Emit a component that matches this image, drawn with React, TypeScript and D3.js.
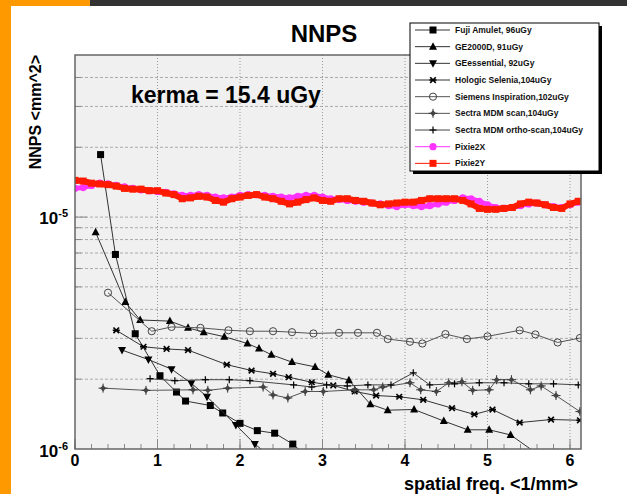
import React from "react";
import * as d3 from "d3";

// spatial frequency (1/mm) and NNPS (mm^2) per detector
const fujiX = [0.31, 0.49, 0.73, 1.03, 1.23, 1.34, 1.64, 1.79, 2.0, 2.21, 2.42, 2.64, 2.85];
const fujiY = [1.86e-5, 6.9e-6, 3.14e-6, 2.07e-6, 1.76e-6, 1.61e-6, 1.54e-6, 1.43e-6, 1.29e-6, 1.2e-6, 1.17e-6, 1.05e-6, 0.9e-6];

const ge2000X = [0.25, 0.61, 0.79, 1.15, 1.37, 1.56, 1.81, 2.09, 2.23, 2.38, 2.63, 2.91, 3.07, 3.32, 3.58, 3.79, 4.11, 4.47, 4.76, 5.02, 5.28, 5.8];
const ge2000Y = [8.6e-6, 4.3e-6, 3.6e-6, 3.56e-6, 3.33e-6, 3.19e-6, 3.05e-6, 2.85e-6, 2.71e-6, 2.55e-6, 2.37e-6, 2.26e-6, 2.09e-6, 1.98e-6, 1.56e-6, 1.47e-6, 1.48e-6, 1.32e-6, 1.21e-6, 1.21e-6, 1.15e-6, 0.85e-6];

const geEssX = [0.57, 0.89, 1.17, 1.41, 1.6, 1.95, 2.18, 2.45];
const geEssY = [2.67e-6, 2.43e-6, 2.21e-6, 1.92e-6, 1.68e-6, 1.27e-6, 1.05e-6, 0.88e-6];

const hologicX = [0.5, 0.83, 1.11, 1.37, 1.84, 2.14, 2.4, 2.59, 2.87, 3.13, 3.39, 3.65, 3.93, 4.22, 4.57, 4.84, 5.06, 5.39, 5.77, 6.12];
const hologicY = [3.25e-6, 2.76e-6, 2.7e-6, 2.67e-6, 2.31e-6, 2.18e-6, 2.11e-6, 2.04e-6, 1.94e-6, 1.88e-6, 1.77e-6, 1.7e-6, 1.68e-6, 1.63e-6, 1.5e-6, 1.41e-6, 1.48e-6, 1.3e-6, 1.34e-6, 1.33e-6];

const siemensX = [0.4, 0.93, 1.17, 1.52, 1.86, 2.12, 2.4, 2.63, 2.89, 3.2, 3.43, 3.66, 3.79, 4.06, 4.21, 4.49, 4.75, 5.0, 5.39, 5.58, 5.85, 6.12];
const siemensY = [4.72e-6, 3.22e-6, 3.36e-6, 3.33e-6, 3.25e-6, 3.22e-6, 3.22e-6, 3.19e-6, 3.15e-6, 3.17e-6, 3.17e-6, 3.17e-6, 2.98e-6, 2.9e-6, 2.85e-6, 3.13e-6, 2.98e-6, 3.06e-6, 3.25e-6, 3.12e-6, 2.88e-6, 3.01e-6];

const sectraX = [0.34, 0.86, 1.43, 1.61, 1.85, 2.28, 2.4, 2.58, 2.79, 3.01, 3.39, 3.62, 3.73, 4.06, 4.19, 4.38, 4.53, 4.69, 4.82, 5.02, 5.11, 5.29, 5.52, 5.65, 5.83, 6.12];
const sectraY = [1.83e-6, 1.79e-6, 1.8e-6, 1.79e-6, 1.83e-6, 1.85e-6, 1.71e-6, 1.66e-6, 1.77e-6, 1.77e-6, 1.8e-6, 1.8e-6, 1.85e-6, 1.93e-6, 1.8e-6, 1.77e-6, 1.93e-6, 1.95e-6, 1.79e-6, 1.8e-6, 1.99e-6, 1.99e-6, 1.8e-6, 1.87e-6, 1.7e-6, 1.45e-6];

const orthoX = [0.91, 1.21, 1.58, 1.87, 2.12, 2.65, 2.87, 3.05, 3.3, 3.55, 3.83, 4.1, 4.3, 4.6, 4.9, 5.2, 5.5, 5.8, 6.1];
const orthoY = [2.01e-6, 1.97e-6, 1.99e-6, 1.99e-6, 1.97e-6, 1.89e-6, 1.85e-6, 1.89e-6, 1.87e-6, 1.89e-6, 1.89e-6, 2.13e-6, 1.89e-6, 1.91e-6, 1.93e-6, 1.93e-6, 1.91e-6, 1.91e-6, 1.89e-6];

const pixieX = [0, 0.1, 0.2, 0.3, 0.4, 0.5, 0.6, 0.7, 0.8, 0.9, 1.0, 1.1, 1.2, 1.3, 1.4, 1.5, 1.6, 1.7, 1.8, 1.9, 2.0, 2.1, 2.2, 2.3, 2.4, 2.5, 2.6, 2.7, 2.8, 2.9, 3.0, 3.1, 3.2, 3.3, 3.4, 3.5, 3.6, 3.7, 3.8, 3.9, 4.0, 4.1, 4.2, 4.3, 4.4, 4.5, 4.6, 4.7, 4.8, 4.9, 5.0, 5.1, 5.2, 5.3, 5.4, 5.5, 5.6, 5.7, 5.8, 5.9, 6.0, 6.1];
// in units of 1e-5
const pixie2X = [1.33, 1.34, 1.37, 1.4, 1.39, 1.37, 1.35, 1.33, 1.31, 1.3, 1.29, 1.28, 1.26, 1.24, 1.24, 1.25, 1.24, 1.22, 1.21, 1.22, 1.24, 1.25, 1.25, 1.24, 1.23, 1.22, 1.21, 1.23, 1.24, 1.24, 1.22, 1.2, 1.19, 1.18, 1.17, 1.16, 1.15, 1.14, 1.12, 1.11, 1.13, 1.12, 1.11, 1.12, 1.14, 1.16, 1.18, 1.21, 1.2, 1.17, 1.13, 1.1, 1.09, 1.1, 1.12, 1.14, 1.15, 1.13, 1.11, 1.1, 1.13, 1.16];
const pixie2Y = [1.44, 1.43, 1.4, 1.39, 1.38, 1.36, 1.33, 1.32, 1.32, 1.3, 1.3, 1.27, 1.25, 1.2, 1.21, 1.23, 1.22, 1.18, 1.16, 1.2, 1.22, 1.24, 1.25, 1.22, 1.2, 1.17, 1.14, 1.16, 1.19, 1.21, 1.18, 1.17, 1.2, 1.2, 1.18, 1.17, 1.15, 1.13, 1.14, 1.15, 1.16, 1.16, 1.18, 1.2, 1.2, 1.2, 1.2, 1.18, 1.14, 1.09, 1.08, 1.08, 1.09, 1.1, 1.14, 1.16, 1.15, 1.13, 1.1, 1.09, 1.14, 1.17];

const legendLabels = [
  "Fuji Amulet, 96uGy",
  "GE2000D, 91uGy",
  "GEessential, 92uGy",
  "Hologic Selenia,104uGy",
  "Siemens Inspiration,102uGy",
  "Sectra MDM scan,104uGy",
  "Sectra MDM ortho-scan,104uGy",
  "Pixie2X",
  "Pixie2Y",
];
const xTickLabels = ["0", "1", "2", "3", "4", "5", "6"];

const FONT = "'Liberation Sans', Arial, Helvetica, sans-serif";
const W = 627;
const H = 494;
const left = 75, right = 581, top = 55, bottom = 449;

type Kind = "square" | "triUp" | "triDown" | "star" | "circleOpen" | "diamondCross" | "plus" | "dotMag" | "squareRed";

function Marker({ kind, x, y }: { kind: Kind; x: number; y: number }) {
  switch (kind) {
    case "square":
      return <rect x={x - 3.5} y={y - 3.5} width={7} height={7} fill="#000" />;
    case "squareRed":
      return <rect x={x - 3.5} y={y - 3.5} width={7} height={7} fill="#ff1a00" />;
    case "triUp":
      return <path d={`M${x},${y - 4.5}L${x + 4},${y + 3}L${x - 4},${y + 3}Z`} fill="#000" />;
    case "triDown":
      return <path d={`M${x},${y + 4.5}L${x + 4},${y - 3}L${x - 4},${y - 3}Z`} fill="#000" />;
    case "star":
      return (
        <g stroke="#000" strokeWidth={1.6}>
          <line x1={x - 3.5} x2={x + 3.5} y1={y} y2={y} />
          <line x1={x - 2.8} x2={x + 2.8} y1={y - 2.8} y2={y + 2.8} />
          <line x1={x - 2.8} x2={x + 2.8} y1={y + 2.8} y2={y - 2.8} />
        </g>
      );
    case "circleOpen":
      return <circle cx={x} cy={y} r={3.6} fill="none" stroke="#444" strokeWidth={1} />;
    case "diamondCross":
      return (
        <g>
          <line x1={x - 4.5} x2={x + 4.5} y1={y} y2={y} stroke="#333" strokeWidth={1} />
          <line x1={x} x2={x} y1={y - 4.5} y2={y + 4.5} stroke="#333" strokeWidth={1} />
          <path d={`M${x},${y - 3}L${x + 3},${y}L${x},${y + 3}L${x - 3},${y}Z`} fill="#444" />
        </g>
      );
    case "plus":
      return (
        <g stroke="#000" strokeWidth={1.2}>
          <line x1={x - 3.5} x2={x + 3.5} y1={y} y2={y} />
          <line x1={x} x2={x} y1={y - 3.5} y2={y + 3.5} />
        </g>
      );
    case "dotMag":
      return <circle cx={x} cy={y} r={3.6} fill="#ff33ff" />;
  }
  return null;
}

export default function App() {
  const x = d3.scaleLinear().domain([0, 6.133]).range([left, right]);
  const y = d3.scaleLog().domain([1e-6, 5e-5]).range([bottom, top]);

  const series: { xs: number[]; ys: number[]; kind: Kind; color: string; width: number; lw: number }[] = [
    { xs: fujiX, ys: fujiY, kind: "square", color: "#333", width: 1, lw: 1 },
    { xs: ge2000X, ys: ge2000Y, kind: "triUp", color: "#333", width: 1, lw: 1 },
    { xs: geEssX, ys: geEssY, kind: "triDown", color: "#333", width: 1, lw: 1 },
    { xs: hologicX, ys: hologicY, kind: "star", color: "#333", width: 1, lw: 1 },
    { xs: siemensX, ys: siemensY, kind: "circleOpen", color: "#555", width: 1, lw: 1 },
    { xs: sectraX, ys: sectraY, kind: "diamondCross", color: "#555", width: 1, lw: 1 },
    { xs: orthoX, ys: orthoY, kind: "plus", color: "#444", width: 1, lw: 1 },
    { xs: pixieX, ys: pixie2X.map((v) => v * 1e-5), kind: "dotMag", color: "#ff33ff", width: 5, lw: 1 },
    { xs: pixieX, ys: pixie2Y.map((v) => v * 1e-5), kind: "squareRed", color: "#ff1a00", width: 6, lw: 1 },
  ];

  const line = d3
    .line<[number, number]>()
    .x((d) => x(d[0]))
    .y((d) => y(d[1]));

  const yGrid = y.ticks().filter((t) => t > 1e-6 && t < 5e-5);
  const xMinor = d3.range(0, 6.1, 0.2);
  const xMajor = d3.range(0, 7, 1);

  const legendTop = 30;
  const legendStep = 16.67;

  return (
    <svg
      width={W}
      height={H}
      style={{ position: "fixed", left: 0, top: 0, background: "#fff" }}
      fontFamily={FONT}
    >
      {/* page frame */}
      <rect x={0} y={0} width={W} height={H} fill="#fff" />
      <rect x={0} y={0} width={11} height={H} fill="#ff9900" />
      <rect x={0} y={0} width={90} height={6} fill="#ff9900" />
      <rect x={90} y={0} width={W - 90} height={6} fill="#333" />

      <text x={324} y={42} textAnchor="middle" fontSize={24} fontWeight="bold">
        NNPS
      </text>

      {/* plot frame */}
      <rect x={left} y={top} width={right - left} height={bottom - top} fill="#f0f0f0" />

      {yGrid.map((t) => (
        <line
          key={"gy" + t}
          x1={left}
          x2={right}
          y1={y(t)}
          y2={y(t)}
          stroke="#aaa"
          strokeWidth={1}
          strokeDasharray="3,2"
        />
      ))}
      {xMajor.slice(1).map((t) => (
        <line
          key={"gx" + t}
          x1={x(t)}
          x2={x(t)}
          y1={top}
          y2={bottom}
          stroke="#999"
          strokeWidth={1}
          strokeDasharray="1,2"
        />
      ))}

      {/* ticks */}
      {xMinor.map((t) => (
        <line key={"xm" + t} x1={x(t)} x2={x(t)} y1={bottom} y2={bottom - 5} stroke="#888" />
      ))}
      {xMajor.map((t) => (
        <line key={"xM" + t} x1={x(t)} x2={x(t)} y1={bottom} y2={bottom - 10} stroke="#888" />
      ))}
      {yGrid.map((t) => (
        <line
          key={"yt" + t}
          x1={left}
          x2={left + (Math.abs(Math.log10(t) - Math.round(Math.log10(t))) < 1e-6 ? 12 : 6)}
          y1={y(t)}
          y2={y(t)}
          stroke="#888"
        />
      ))}

      <text x={131} y={103} fontSize={23} fontWeight="bold">
        kerma = 15.4 uGy
      </text>

      <defs>
        <clipPath id="plotClip">
          <rect x={left} y={top} width={right - left} height={bottom - top} />
        </clipPath>
      </defs>
      <g clipPath="url(#plotClip)">
        {series.map((s, i) => {
          const pts = s.xs.map((v, j) => [v, s.ys[j]] as [number, number]);
          return (
            <g key={"s" + i}>
              <path d={line(pts) || ""} fill="none" stroke={s.color} strokeWidth={s.width} />
              {pts.map((p, j) => (
                <Marker key={j} kind={s.kind} x={x(p[0])} y={y(p[1])} />
              ))}
            </g>
          );
        })}
      </g>

      <rect
        x={left}
        y={top}
        width={right - left}
        height={bottom - top}
        fill="none"
        stroke="#666"
        strokeWidth={1.5}
      />

      {/* axis labels */}
      {xTickLabels.map((lab, i) => (
        <text key={"xl" + i} x={x(i)} y={466} textAnchor="middle" fontSize={16} fontWeight="bold">
          {lab}
        </text>
      ))}
      <text x={68} y={y(1e-5) + 7} textAnchor="end" fontSize={17} fontWeight="bold">
        <tspan>10</tspan>
        <tspan dy={-7} fontSize={11}>-5</tspan>
      </text>
      <text x={68} y={y(1e-6) + 8} textAnchor="end" fontSize={17} fontWeight="bold">
        <tspan>10</tspan>
        <tspan dy={-7} fontSize={11}>-6</tspan>
      </text>

      <text x={578} y={490} textAnchor="end" fontSize={18} fontWeight="bold">
        spatial freq. &lt;1/mm&gt;
      </text>
      <text
        transform={`translate(41,${top}) rotate(-90)`}
        textAnchor="end"
        fontSize={16}
        fontWeight="bold"
      >
        NNPS &lt;mm^2&gt;
      </text>

      {/* legend */}
      <rect x={413} y={26} width={189} height={148} fill="#000" />
      <rect x={410} y={23} width={189} height={148} fill="#fff" stroke="#000" strokeWidth={1} />
      {legendLabels.map((lab, i) => {
        const ly = legendTop + i * legendStep;
        const s = series[i];
        return (
          <g key={"lg" + i}>
            <line x1={415} x2={450} y1={ly} y2={ly} stroke={s.color} strokeWidth={s.lw} />
            <Marker kind={s.kind} x={433} y={ly} />
            <text x={455} y={ly} dy="0.35em" fontSize={8.5} fontWeight="bold" fill="#111">
              {lab}
            </text>
          </g>
        );
      })}
    </svg>
  );
}
